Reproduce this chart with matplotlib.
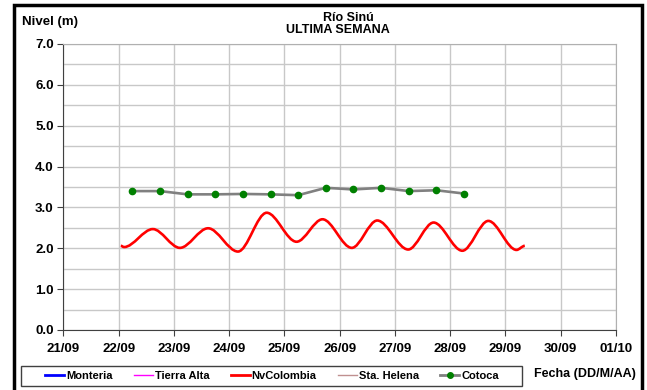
import matplotlib
matplotlib.use('Agg')
import matplotlib.pyplot as plt
from matplotlib.path import Path
from matplotlib.patches import PathPatch, Rectangle
from matplotlib.lines import Line2D

plt.rc('font', family='Liberation Sans', weight='bold')

# dias (dia de septiembre, fraccion = hora)
dias_ticks = [21, 22, 23, 24, 25, 26, 27, 28, 29, 30, 31]
etiquetas_x = ['21/09', '22/09', '23/09', '24/09', '25/09', '26/09',
               '27/09', '28/09', '29/09', '30/09', '01/10']

# NvColombia (puntos de giro)
nv_x = [22.04, 22.10, 22.62, 23.11, 23.62, 24.16, 24.68, 25.22, 25.69,
        26.22, 26.68, 27.24, 27.70, 28.22, 28.69, 29.20, 29.35]
nv_y = [2.06, 2.03, 2.47, 2.01, 2.49, 1.92, 2.87, 2.16, 2.71,
        2.01, 2.68, 1.97, 2.63, 1.94, 2.67, 1.96, 2.06]

# Cotoca
cot_x = [22.25, 22.75, 23.25, 23.75, 24.25, 24.75, 25.25,
         25.75, 26.25, 26.75, 27.25, 27.75, 28.25]
cot_y = [3.40, 3.40, 3.32, 3.32, 3.33, 3.32, 3.30,
         3.48, 3.44, 3.48, 3.40, 3.42, 3.34]

fig = plt.figure(figsize=(6.47, 3.90), dpi=100)
ax = fig.add_axes([63.3/647, 1-330/390, (616-63.3)/647, (330-44)/390])

# linea suavizada (como Excel) con curvas Bezier entre los puntos
verts = [(nv_x[0], nv_y[0])]
codes = [Path.MOVETO]
for i in range(len(nv_x)-1):
    dx = nv_x[i+1] - nv_x[i]
    verts += [(nv_x[i] + dx/3, nv_y[i]), (nv_x[i+1] - dx/3, nv_y[i+1]), (nv_x[i+1], nv_y[i+1])]
    codes += [Path.CURVE4, Path.CURVE4, Path.CURVE4]
ax.add_patch(PathPatch(Path(verts, codes), facecolor='none', edgecolor='#ff0000', lw=1.9, zorder=3))

ax.plot(cot_x, cot_y, color='#808080', lw=1.9, marker='o', markersize=4.5,
        markerfacecolor='#008000', markeredgecolor='#008000', zorder=4)

ax.set_xlim(21, 31)
ax.set_ylim(0, 7)
ax.set_xticks(dias_ticks)
ax.set_xticklabels(etiquetas_x)
ax.set_yticks([0, 1, 2, 3, 4, 5, 6, 7])
ax.set_yticklabels(['0.0', '1.0', '2.0', '3.0', '4.0', '5.0', '6.0', '7.0'])
ax.set_yticks([0.5, 1.5, 2.5, 3.5, 4.5, 5.5, 6.5], minor=True)
ax.grid(True, which='both', color='#c8c8c8', lw=1)
ax.set_axisbelow(True)
ax.tick_params(axis='y', which='minor', length=0)
ax.tick_params(axis='y', which='major', length=4, color='#404040', labelsize=9.5, pad=3)
ax.tick_params(axis='x', length=4, color='#404040', labelsize=9.5, pad=5)
for s in ['top', 'right']:
    ax.spines[s].set_color('#b0b0b0')
for s in ['left', 'bottom']:
    ax.spines[s].set_color('#404040')

fig.text(22/647, 1-22/390, 'Nivel (m)', fontsize=9.5, va='center', ha='left')
fig.text(348/647, 1-18/390, 'Río Sinú', fontsize=9, va='center', ha='center')
fig.text(338/647, 1-30/390, 'ULTIMA SEMANA', fontsize=9, va='center', ha='center')
fig.text(585/647, 1-374/390, 'Fecha (DD/M/AA)', fontsize=9, va='center', ha='center')

handles = [
    Line2D([], [], color='#0000ff', lw=2),
    Line2D([], [], color='#ff00ff', lw=1),
    Line2D([], [], color='#ff0000', lw=2),
    Line2D([], [], color='#c09090', lw=1),
    Line2D([], [], color='#808080', lw=2, marker='o', markersize=4,
           markerfacecolor='#008000', markeredgecolor='#008000'),
]
labels = ['Monteria', 'Tierra Alta', 'NvColombia', 'Sta. Helena', 'Cotoca']
leg = fig.legend(handles, labels, ncol=5, loc='center',
                 bbox_to_anchor=(272/647, 1-376/390), fontsize=8,
                 handlelength=1.7, handletextpad=0.2, columnspacing=1.9,
                 frameon=False, borderpad=0.3)

# marco de la leyenda
fig.patches.append(Rectangle((21/647, 1-386/390), (522-21)/647, 20/390,
                             transform=fig.transFigure, fill=False,
                             edgecolor='#404040', lw=1))

fig.patches.append(Rectangle((14/647, -0.1), (642-14)/647, 1.1 - 5/390,
                             transform=fig.transFigure, fill=False,
                             edgecolor='black', lw=2.5))

fig.savefig('out.png', dpi=100)
